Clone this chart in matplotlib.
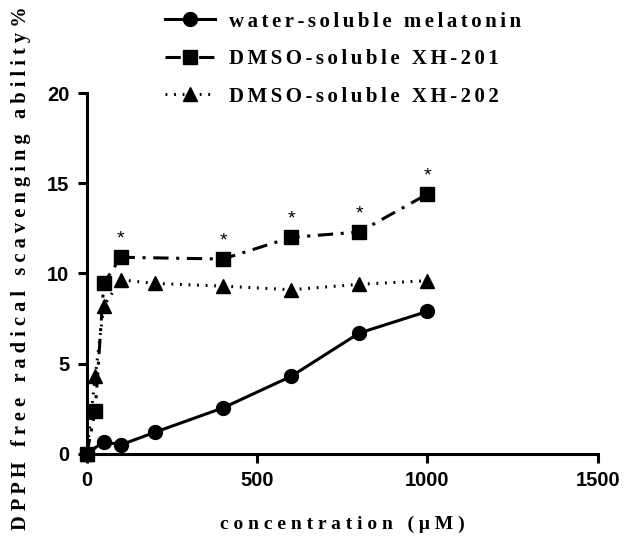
import matplotlib
matplotlib.use("Agg")
import matplotlib.pyplot as plt

# data
conc_mel = [0, 50, 100, 200, 400, 600, 800, 1000]
mel = [0, 0.68, 0.5, 1.2, 2.55, 4.3, 6.7, 7.9]

conc_201 = [0, 25, 50, 100, 400, 600, 800, 1000]
xh201 = [0, 2.4, 9.45, 10.9, 10.8, 12.0, 12.3, 14.4]

conc_202 = [0, 25, 50, 100, 200, 400, 600, 800, 1000]
xh202 = [0, 4.3, 8.2, 9.65, 9.45, 9.3, 9.1, 9.4, 9.6]

# points marked significant
star_x = [100, 400, 600, 800, 1000]
star_y = [10.9, 10.8, 12.0, 12.3, 14.4]

labels = ["water-soluble melatonin", "DMSO-soluble XH-201", "DMSO-soluble XH-202"]


def spaced(s, sep=" "):
    return sep.join(s)


plt.rcParams['font.family'] = ['Liberation Sans', 'DejaVu Sans']
plt.rcParams['font.weight'] = 'bold'

fig = plt.figure(figsize=(6.24, 5.41), dpi=100)
ax = fig.add_axes([0.139, 0.161, 0.819, 0.667])

lw = 2.2
ax.plot(conc_mel, mel, '-', color='black', lw=lw, marker='o', ms=10, clip_on=False, zorder=3)
ax.plot(conc_201, xh201, color='black', lw=lw, ls=(0, (5, 2.5, 1, 2.5)), marker='s', ms=10, clip_on=False, zorder=3)
ax.plot(conc_202, xh202, color='black', lw=lw, ls=(0, (0.6, 2.2)), marker='^', ms=10, clip_on=False, zorder=3)

for xs, ys in zip(star_x, star_y):
    ax.annotate('*', (xs, ys), xytext=(0, 7), textcoords='offset points',
                ha='center', va='bottom', fontsize=14, fontweight='normal')

ax.set_xlim(0, 1500)
ax.set_ylim(0, 20)
ax.set_xticks([0, 500, 1000, 1500])
ax.set_yticks([0, 5, 10, 15, 20])

for s in ['top', 'right']:
    ax.spines[s].set_visible(False)
for s in ['left', 'bottom']:
    ax.spines[s].set_linewidth(2.2)
ax.tick_params(width=2.2, length=6.5, labelsize=14.5, pad=6)
for t in ax.get_xticklabels() + ax.get_yticklabels():
    t.set_fontweight('bold')

serif = ['Liberation Serif', 'DejaVu Serif']
fig.text(0.548, 0.03, spaced("concentration (μM)"), ha='center', va='center',
         fontsize=14, fontweight='bold', family=serif)
fig.text(0.034, 0.505, spaced("DPPH free radical scavenging ability%"), ha='center', va='center',
         rotation=90, fontsize=14.7, fontweight='bold', family=serif)

handles = ax.get_lines()[:3]
leg = fig.legend(handles, [spaced(l, "\u2006") for l in labels], loc='upper left',
                 bbox_to_anchor=(0.235, 1.013), frameon=False,
                 prop={'family': serif, 'weight': 'bold', 'size': 15},
                 handlelength=2.4, handletextpad=0.67, labelspacing=0.84)

fig.savefig('out.png', dpi=100)
